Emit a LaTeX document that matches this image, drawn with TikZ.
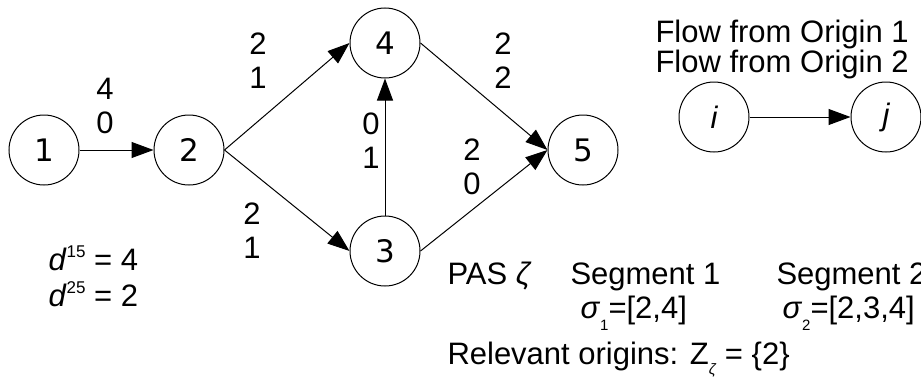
\documentclass[tikz,border=0pt]{standalone}
\usepackage{fontspec}
\setmainfont{Liberation Sans}
\newfontfamily\vertexfont{DejaVu Sans}
\usetikzlibrary{arrows.meta,positioning}
\newcommand{\lowsub}[2]{\raisebox{-#1}{\fontsize{7.5}{8}\selectfont #2}}

\begin{document}
\begin{tikzpicture}[>={Triangle[length=11pt,width=8pt]},line width=.5pt,
  font=\fontsize{15.5}{17}\selectfont,
  vertex/.style={circle,draw,minimum size=35pt,inner sep=0pt,
    font=\vertexfont\fontsize{15.5}{17}\selectfont},
  flowlab/.style={align=center,inner sep=0pt},
  txt/.style={anchor=base west,inner sep=0pt}]
\begin{scope}[x=.5pt,y=-.5pt]
  \path[use as bounding box] (0,0) rectangle (921,380);
  % network
  \node[vertex] (n1) at (44,150) {1};
  \node[vertex] (n2) at (189,150) {2};
  \node[vertex] (n4) at (385,43) {4};
  \node[vertex] (n3) at (385,251) {3};
  \node[vertex] (n5) at (583,150) {5};
  \draw[->] (n1) -- (n2);
  \draw[->] (n2.east) -- (n4.west);
  \draw[->] (n2.east) -- (n3.west);
  \draw[->] (n3) -- (n4);
  \draw[->] (n4.east) -- (n5.west);
  \draw[->] (n3.east) -- (n5.west);
  % flows from origin 1 and origin 2 on each link
  \node[flowlab] (f12) at (105,106) {4\\0};
  \node[flowlab] (f24) at (258,61) {2\\1};
  \node[flowlab] (f23) at (252,231) {2\\1};
  \node[flowlab] (f34) at (371,141) {0\\1};
  \node[flowlab] (f45) at (503,61) {2\\2};
  \node[flowlab] (f35) at (472,167) {2\\0};
  % demands
  \node[txt] (d15) at (48,270) {\textit{d}\raisebox{6.5pt}{\fontsize{8.5}{9}\selectfont 15} = 4};
  \node[txt] (d25) at (48,306) {\textit{d}\raisebox{6.5pt}{\fontsize{8.5}{9}\selectfont 25} = 2};
  % legend
  \node[txt] (flow1) at (655,42) {Flow from Origin 1};
  \node[txt] (flow2) at (655,72) {Flow from Origin 2};
  \node[vertex,font=\fontsize{15.5}{17}\selectfont\itshape] (ni) at (714,117) {i};
  \node[vertex,font=\fontsize{15.5}{17}\selectfont\itshape] (nj) at (886,117) {j};
  \draw[->] (ni) -- (nj);
  % PAS and its segments
  \node[txt] (pas) at (447,284) {PAS \textit{ζ}};
  \node[txt] (seg1) at (570,284) {Segment 1};
  \node[txt] (seg2) at (776,284) {Segment 2};
  \node[txt] (sig1) at (580,318) {\textit{σ}\lowsub{6pt}{1}=[2,4]};
  \node[txt] (sig2) at (782,318) {\textit{σ}\lowsub{6pt}{2}=[2,3,4]};
  \node[txt] (orig) at (447,364) {Relevant origins: Z\lowsub{5pt}{\textit{ζ}} = \{2\}};
\end{scope}
\end{tikzpicture}
\end{document}
